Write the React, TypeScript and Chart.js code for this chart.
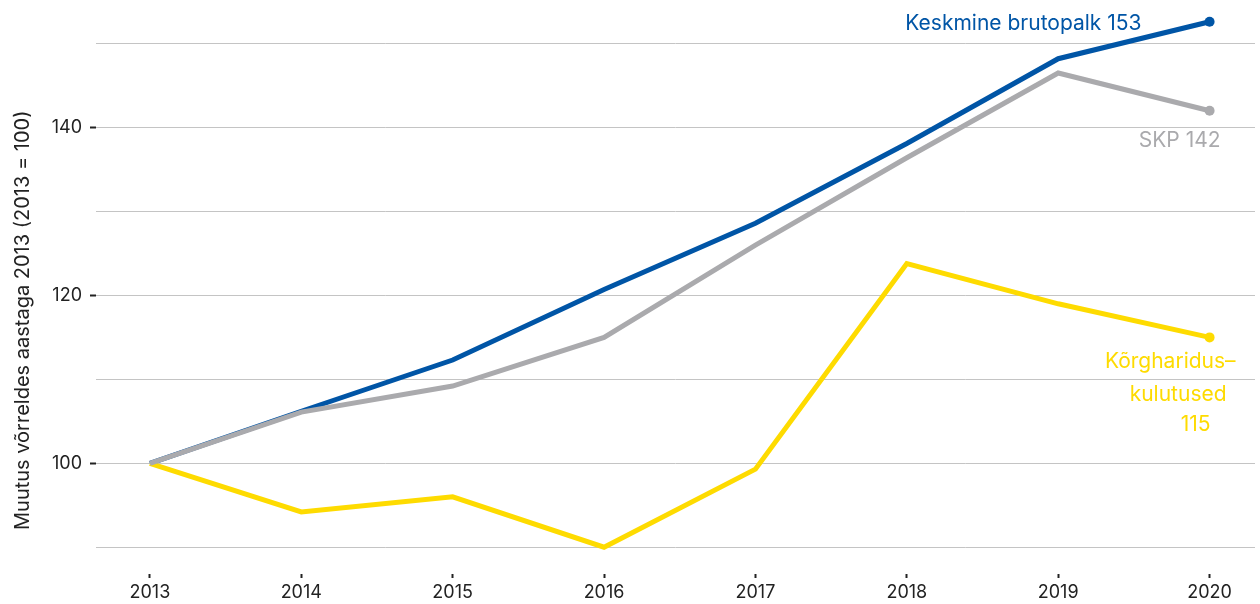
import React, { useEffect, useRef } from "react";
import { Chart, registerables } from "chart.js";
Chart.register(...registerables);

const years = [2013, 2014, 2015, 2016, 2017, 2018, 2019, 2020];
const palk = [100, 106.2, 112.3, 120.7, 128.6, 138.1, 148.2, 152.6];
const skp = [100, 106.1, 109.2, 115, 126, 136.4, 146.5, 142];
const korg = [100, 94.2, 96, 90, 99.3, 123.8, 119, 115];
const yGrid = [90, 100, 110, 120, 130, 140, 150];
const yLabelled = [100, 120, 140];
const yTitle = "Muutus võrreldes aastaga 2013 (2013 = 100)";

const BLUE = "#0055a6";
const GRAY = "#aaaaad";
const YELLOW = "#fedb00";
const FONT = "Inter, 'Noto Sans', sans-serif";

const labelPlugin = {
  id: "endLabels",
  afterDraw(chart: any) {
    const { ctx, scales } = chart;
    const x = scales.x.getPixelForValue(years[7]);
    const yB = scales.y.getPixelForValue(palk[7]);
    const yG = scales.y.getPixelForValue(skp[7]);
    const yY = scales.y.getPixelForValue(korg[7]);
    ctx.save();
    ctx.font = `21px ${FONT}`;
    ctx.textAlign = "right";
    ctx.textBaseline = "alphabetic";
    ctx.fillStyle = BLUE;
    ctx.fillText(`Keskmine brutopalk ${Math.round(palk[7])}`, x - 68, yB + 8);
    ctx.fillStyle = GRAY;
    ctx.fillText(`SKP ${Math.round(skp[7])}`, x + 11, yG + 36);
    ctx.fillStyle = YELLOW;
    ctx.fillText("Kõrgharidus–", x + 26, yY + 31);
    ctx.fillText("kulutused", x + 17, yY + 64);
    ctx.fillText(`${Math.round(korg[7])}`, x + 1, yY + 94);
    // y axis title
    const cy = scales.y.getPixelForValue(100) - 143;
    ctx.translate(23, cy);
    ctx.rotate(-Math.PI / 2);
    ctx.textAlign = "center";
    ctx.textBaseline = "middle";
    ctx.fillStyle = "#222";
    ctx.font = `20px ${FONT}`;
    ctx.fillText(yTitle, 0, 0);
    ctx.restore();
  },
};

export default function App() {
  const ref = useRef<HTMLCanvasElement>(null);
  useEffect(() => {
    const pr = (c: any) => (c.dataIndex === years.length - 1 ? 5 : 0);
    const chart = new Chart(ref.current!, {
      type: "line",
      data: {
        datasets: [
          {
            label: "Keskmine brutopalk",
            data: years.map((y, i) => ({ x: y, y: palk[i] })),
            borderColor: BLUE,
            backgroundColor: BLUE,
            borderWidth: 5,
            pointRadius: pr,
            pointBorderWidth: 0,
            clip: false,
            order: 3,
          },
          {
            label: "Kõrgharidus-kulutused",
            data: years.map((y, i) => ({ x: y, y: korg[i] })),
            borderColor: YELLOW,
            backgroundColor: YELLOW,
            borderWidth: 5,
            pointRadius: pr,
            pointBorderWidth: 0,
            clip: false,
            order: 2,
          },
          {
            label: "SKP",
            data: years.map((y, i) => ({ x: y, y: skp[i] })),
            borderColor: GRAY,
            backgroundColor: GRAY,
            borderWidth: 5,
            pointRadius: pr,
            pointBorderWidth: 0,
            clip: false,
            order: 1,
          },
        ],
      },
      options: {
        animation: false,
        responsive: false,
        maintainAspectRatio: false,
        layout: { padding: { top: 0, right: 0, left: 0, bottom: 0 } },
        plugins: { legend: { display: false }, tooltip: { enabled: false } },
        scales: {
          x: {
            type: "linear",
            min: 2012.644,
            max: 2020.30,
            afterBuildTicks: (s: any) => {
              s.ticks = years.map((v) => ({ value: v }));
            },
            afterFit: (s: any) => {
              s.height = 30;
              s.paddingLeft = 0;
              s.paddingRight = 0;
            },
            border: { display: false },
            grid: { drawOnChartArea: false, drawTicks: true, tickLength: 4, tickColor: "#222", tickWidth: 2 },
            ticks: {
              padding: 4,
              color: "#222",
              font: { family: FONT, size: 18 },
              callback: (v: any) => String(v),
            },
          },
          y: {
            type: "linear",
            min: 86.81,
            max: 154.6,
            afterBuildTicks: (s: any) => {
              s.ticks = yGrid.map((v) => ({ value: v }));
            },
            afterFit: (s: any) => {
              s.width = 96;
              s.paddingTop = 0;
              s.paddingBottom = 0;
            },
            border: { display: false },
            grid: {
              color: "#c4c4c4",
              lineWidth: 1,
              tickLength: 6,
              tickWidth: 2,
              tickColor: (c: any) => (yLabelled.includes(c.tick?.value) ? "#222" : "rgba(0,0,0,0)"),
            },
            ticks: {
              padding: 8,
              color: "#222",
              font: { family: FONT, size: 18 },
              callback: (v: any) => (yLabelled.includes(v) ? String(v) : ""),
            },
          },
        },
      },
      plugins: [labelPlugin],
    } as any);
    return () => chart.destroy();
  }, []);
  return (
    <div style={{ position: "fixed", left: 0, top: 0, width: 1260, height: 604, background: "#fff" }}>
      <canvas ref={ref} width={1260} height={604} style={{ width: 1260, height: 604 }} />
    </div>
  );
}
